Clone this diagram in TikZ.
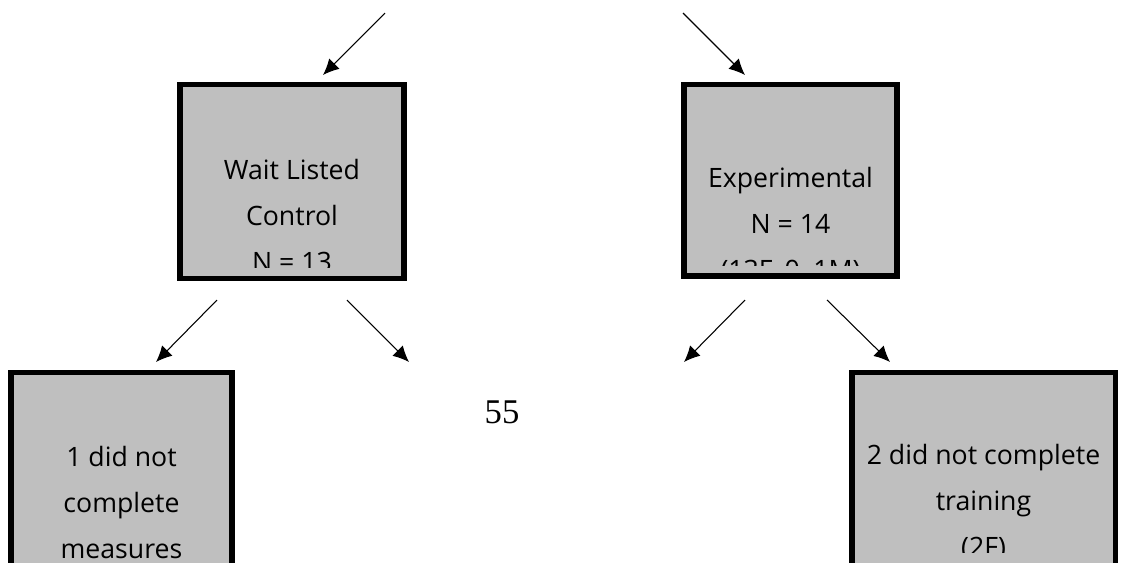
\documentclass[tikz,border=0pt]{standalone}
\usepackage{fontspec}
\setmainfont{Open Sans}
\newfontfamily\pagefont{Liberation Serif}
\usetikzlibrary{arrows.meta}
\definecolor{boxgray}{RGB}{191,191,191}

\begin{document}
\begin{tikzpicture}[x=0.75pt,y=-0.75pt,
	box/.style={draw=black,fill=boxgray,line width=4pt,inner sep=0pt},
	boxtext/.style={align=center,inner sep=0pt,anchor=base,
		font=\fontsize{20}{34.5}\selectfont},
	flow/.style={line width=0.8pt,-{Latex[length=12pt,width=11pt]}}]
			\useasboundingbox (0,0) rectangle (1121,562);

			% groups
			\node[box,minimum width=168pt,minimum height=145.5pt] (wait) at (292,181.5) {};
			\node[box,minimum width=159.75pt,minimum height=143.6pt] (exper) at (790.5,180.25) {};
			\begin{scope}
				\clip (183,87) rectangle (401,267);
				\node[boxtext] (waittext) at (292,271) {Wait Listed\\Control\\N = 13};
			\end{scope}
			\begin{scope}
				\clip (687,87) rectangle (894,265);
				\node[boxtext] (expertext) at (790.5,279) {Experimental\\N = 14\\(13F, 0, 1M)};
			\end{scope}

			% drop outs
			\node[box,minimum width=165.75pt,minimum height=245.6pt] (dropw) at (121.5,536.25) {};
			\node[box,minimum width=197.6pt,minimum height=245.6pt] (drope) at (983.75,536.25) {};
			\begin{scope}
				\clip (14,375) rectangle (229,600);
				\node[boxtext] (dropwtext) at (121.5,558) {1 did not\\complete\\measures};
			\end{scope}
			\begin{scope}
				\clip (855,375) rectangle (1112,552);
				\node[boxtext] (dropetext) at (983.5,556) {2 did not complete\\training\\(2F)};
			\end{scope}

			\node[anchor=base,inner sep=0pt,font=\pagefont\fontsize{26}{30}\selectfont] (page) at (502,423) {55};

			% arrows
			\coordinate (a1) at (385,13);  \coordinate (a2) at (323,75);
			\coordinate (b1) at (683,13);  \coordinate (b2) at (745,75);
			\coordinate (c1) at (217,300); \coordinate (c2) at (156,362);
			\coordinate (d1) at (347,300); \coordinate (d2) at (409,362);
			\coordinate (e1) at (745,300); \coordinate (e2) at (684,362);
			\coordinate (f1) at (827,300); \coordinate (f2) at (890,362);
			\draw[flow] (a1) -- (a2);
			\draw[flow] (b1) -- (b2);
			\draw[flow] (c1) -- (c2);
			\draw[flow] (d1) -- (d2);
			\draw[flow] (e1) -- (e2);
			\draw[flow] (f1) -- (f2);
		\end{tikzpicture}
\end{document}
